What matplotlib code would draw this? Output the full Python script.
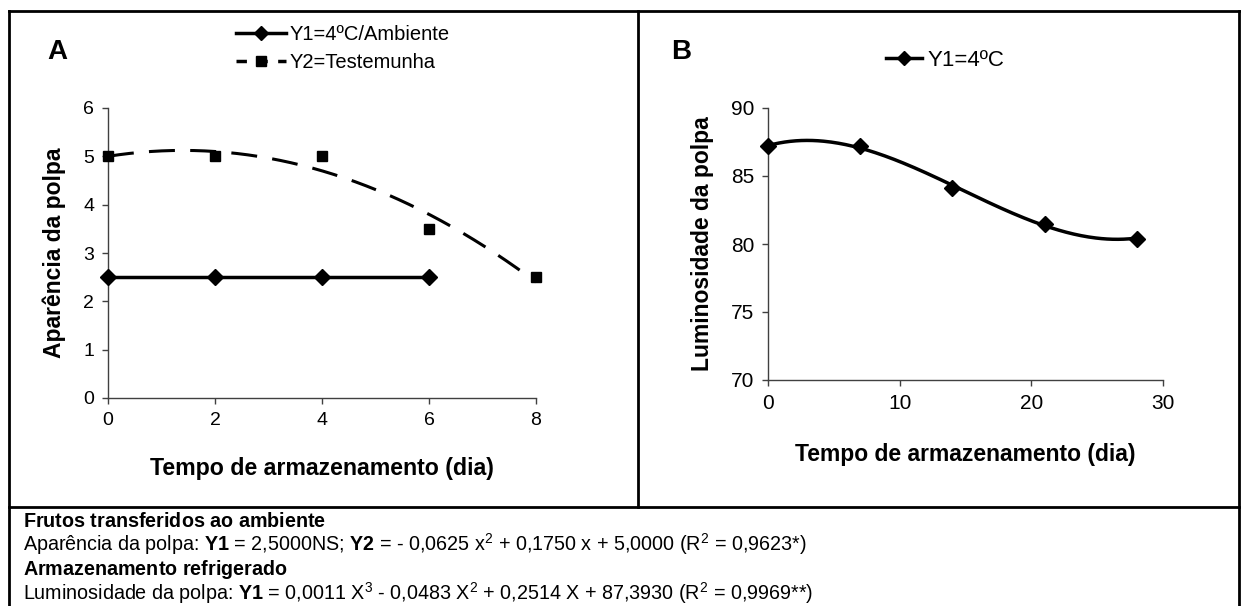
import numpy as np
import matplotlib
matplotlib.use('Agg')
import matplotlib.pyplot as plt
from matplotlib.lines import Line2D

plt.rcParams['font.family'] = ['Liberation Sans', 'DejaVu Sans']
plt.rcParams['mathtext.fontset'] = 'custom'
plt.rcParams['mathtext.rm'] = 'Liberation Sans'
plt.rcParams['mathtext.it'] = 'Liberation Sans'
plt.rcParams['mathtext.bf'] = 'Liberation Sans:bold'

# dados - painel A (aparência da polpa)
dias_a = [0, 2, 4, 6, 8]
y1_dias = [0, 2, 4, 6]
y1_aparencia = [2.5, 2.5, 2.5, 2.5]
y2_aparencia = [5.0, 5.0, 5.0, 3.5, 2.5]

# dados - painel B (luminosidade da polpa)
dias_b = [0, 7, 14, 21, 28]
y1_luminosidade = [87.2, 87.2, 84.1, 81.5, 80.4]

xticks_a = [0, 2, 4, 6, 8]
yticks_a = [0, 1, 2, 3, 4, 5, 6]
xticks_b = [0, 10, 20, 30]
yticks_b = [70, 75, 80, 85, 90]

W, H = 1247, 606
fig = plt.figure(figsize=(W / 100, H / 100), dpi=100)

def px(x0, y0, x1, y1):
    # caixa em pixels -> coordenadas da figura
    return [x0 / W, 1 - y1 / H, (x1 - x0) / W, (y1 - y0) / H]

def estilo(ax, tick_fs):
    for s in ['top', 'right']:
        ax.spines[s].set_visible(False)
    for s in ['left', 'bottom']:
        ax.spines[s].set_color('#404040')
        ax.spines[s].set_linewidth(1.0)
    ax.tick_params(direction='out', length=4, width=1, color='#404040',
                   labelsize=tick_fs, pad=6)

# Painel A
axA = fig.add_axes(px(108, 108, 536, 398))
# tendência quadrática (Y2) a partir dos pontos
coef_a = np.polyfit(dias_a, y2_aparencia, 2)
xa = np.linspace(0, 8, 200)
axA.plot(xa, np.polyval(coef_a, xa), color='black', lw=2.2, dashes=(8.5, 5), zorder=2)
axA.plot(dias_a, y2_aparencia, 's', color='black', ms=7, clip_on=False, zorder=3)
axA.plot(y1_dias, y1_aparencia, '-D', color='black', lw=2.5, ms=8, clip_on=False, zorder=3)
axA.set_xlim(0, 8)
axA.set_ylim(0, 6)
axA.set_xticks(xticks_a)
axA.set_yticks(yticks_a)
estilo(axA, 14)
axA.set_xlabel('Tempo de armazenamento (dia)', fontsize=16.7, fontweight='bold', labelpad=20)
axA.set_ylabel('Aparência da polpa', fontsize=16.5, fontweight='bold', labelpad=12)

h1 = Line2D([], [], color='black', lw=2.5, marker='D', ms=7)
h2 = Line2D([], [], color='black', lw=2.5, marker='s', ms=7, dashes=(3, 3))
axA.legend([h1, h2], ['Y1=4ºC/Ambiente', 'Y2=Testemunha'], loc='upper left',
           bbox_to_anchor=(236 / W, 1 - 25 / H), bbox_transform=fig.transFigure,
           frameon=False, fontsize=14.5, handlelength=2.5, handletextpad=0.15,
           borderpad=0, borderaxespad=0, labelspacing=0.45)
fig.text(57 / W, 1 - 52 / H, 'A', fontsize=20, fontweight='bold', ha='center', va='center')

# Painel B
axB = fig.add_axes(px(768, 108, 1163, 380))
coef_b = np.polyfit(dias_b, y1_luminosidade, 3)
xb = np.linspace(0, 28, 200)
axB.plot(xb, np.polyval(coef_b, xb), color='black', lw=2.5, zorder=2)
axB.plot(dias_b, y1_luminosidade, 'D', color='black', ms=8, clip_on=False, zorder=3)
axB.set_xlim(0, 30)
axB.set_ylim(70, 90)
axB.set_xticks(xticks_b)
axB.set_yticks(yticks_b)
estilo(axB, 15)
axB.set_xlabel('Tempo de armazenamento (dia)', fontsize=16.5, fontweight='bold', labelpad=22)
axB.set_ylabel('Luminosidade da polpa', fontsize=16.5, fontweight='bold', labelpad=12)

h3 = Line2D([], [], color='black', lw=2.5, marker='D', ms=7)
axB.legend([h3], ['Y1=4ºC'], loc='upper left',
           bbox_to_anchor=(886 / W, 1 - 50 / H), bbox_transform=fig.transFigure,
           frameon=False, fontsize=16, handlelength=1.6, handletextpad=0.25,
           borderpad=0, borderaxespad=0)
fig.text(681 / W, 1 - 52 / H, 'B', fontsize=20, fontweight='bold', ha='center', va='center')

# molduras
kw = dict(color='black', lw=2, transform=fig.transFigure)
fig.add_artist(Line2D([9 / W, 9 / W], [-0.01, 1 - 11 / H], **kw))
fig.add_artist(Line2D([9 / W, 1239 / W], [1 - 11 / H, 1 - 11 / H], **kw))
fig.add_artist(Line2D([1239 / W, 1239 / W], [-0.01, 1 - 11 / H], **kw))
fig.add_artist(Line2D([9 / W, 1239 / W], [1 - 507 / H, 1 - 507 / H], **kw))
fig.add_artist(Line2D([638 / W, 638 / W], [1 - 507 / H, 1 - 11 / H], **kw))

# texto de rodapé
linhas = [
    (527, r'$\mathbf{Frutos\ transferidos\ ao\ ambiente}$'),
    (551, r'Aparência da polpa: $\mathbf{Y1}$ = 2,5000NS; $\mathbf{Y2}$ = - 0,0625 x$^2$ + 0,1750 x + 5,0000 (R$^2$ = 0,9623*)'),
    (575, r'$\mathbf{Armazenamento\ refrigerado}$'),
    (600, r'Luminosidade da polpa: $\mathbf{Y1}$ = 0,0011 X$^3$ - 0,0483 X$^2$ + 0,2514 X + 87,3930 (R$^2$ = 0,9969**)'),
]
for yb, txt in linhas:
    fig.text(23 / W, 1 - yb / H, txt, fontsize=14.2, ha='left', va='baseline')

fig.savefig('out.png', dpi=100)
